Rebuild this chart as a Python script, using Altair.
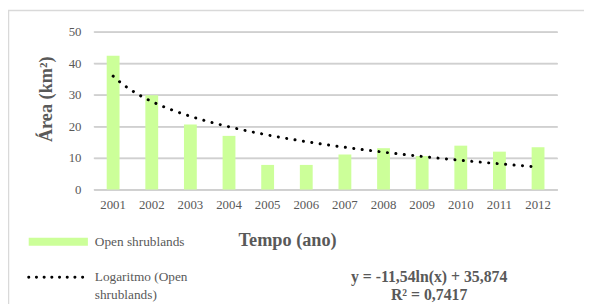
import altair as alt
import pandas as pd

# ---- data ----
years = [2001, 2002, 2003, 2004, 2005, 2006, 2007, 2008, 2009, 2010, 2011, 2012]
area = [42.4, 29.9, 20.6, 17.0, 7.8, 7.8, 11.1, 13.1, 10.6, 13.9, 12.0, 13.4]
y_ticks = [0, 10, 20, 30, 40, 50]
series_label = ["Open shrublands"]
trend_label = ["Logaritmo (Open", "shrublands)"]
equation_lines = ["y = -11,54ln(x) + 35,874", "R² = 0,7417"]
x_title = "Tempo (ano)"
y_title = "Área (km²)"

FONT = "Liberation Serif"
GRAY = "#595959"
GRID = "#d0d0d0"
GREEN = "#ccff99"

df = pd.DataFrame({"year": years, "area": area})
base = alt.Chart(df)

y_axis = alt.Axis(title=y_title, values=y_ticks, domain=False, ticks=False,
                  grid=True, gridColor=GRID, gridWidth=1.5, gridOpacity=1,
                  labelPadding=13, labelFontSize=13, labelColor=GRAY,
                  titleX=-49, titleY=68, titleBaseline="middle", titleAngle=-90,
                  titleFontSize=18.5, titleColor=GRAY, titleFontWeight="bold")
y_scale = alt.Scale(domain=[0, 50], nice=False)

grid = alt.Chart(pd.DataFrame({"area": y_ticks})).mark_rule(
    color=GRID, strokeWidth=1.5, opacity=1, yOffset=0.25
).encode(x=alt.value(0), x2=alt.value(470),
         y=alt.Y("area:Q", scale=y_scale, axis=y_axis))

bars = base.mark_bar(color=GREEN).encode(
    x=alt.X("year:O",
            scale=alt.Scale(paddingInner=0.668, paddingOuter=0.334),
            axis=alt.Axis(title=x_title, labelAngle=0, ticks=False, grid=False,
                          domain=True, domainColor=GRID, domainWidth=1.5,
                          labelPadding=9, labelFontSize=13, labelColor=GRAY,
                          titleX=196, titleY=51, titleBaseline="middle",
                          titleFontSize=18.5, titleColor=GRAY, titleFontWeight="bold")),
    y=alt.Y("area:Q", scale=y_scale, axis=y_axis),
)

trend = (
    base.transform_calculate(idx="datum.year - 2000")
    .transform_regression("idx", "area", method="log", extent=[1, 12])
    .mark_line(color="black", strokeDash=[0.1, 8.5], strokeCap="round", strokeWidth=3)
    .encode(
        x=alt.X("idx:Q", scale=alt.Scale(domain=[0.5, 12.5], nice=False, zero=False), axis=None),
        y=alt.Y("area:Q", scale=y_scale, axis=y_axis),
    )
)

border = alt.Chart(pd.DataFrame({"k": [0]})).mark_rect(
    filled=False, stroke="#d9d9d9", strokeWidth=1.5
).encode(x=alt.value(-86.5), x2=alt.value(600), y=alt.value(-21.5), y2=alt.value(400))


def text_line(label, x, y, align, size, weight="normal"):
    return alt.Chart(pd.DataFrame({"label": [label]})).mark_text(
        align=align, baseline="middle", font=FONT, fontSize=size, fontWeight=weight, color=GRAY
    ).encode(text="label:N", x=alt.value(x), y=alt.value(y))


leg_swatch = alt.Chart(pd.DataFrame({"label": series_label})).mark_rect(color=GREEN).encode(
    x=alt.value(-66), x2=alt.value(-6), y=alt.value(209), y2=alt.value(217))
leg_text1 = text_line(series_label[0], 1, 213, "left", 13.5)

leg_line = alt.Chart(pd.DataFrame({"label": [trend_label[0]]})).mark_rule(
    color="black", strokeDash=[0.1, 7.7], strokeCap="round", strokeWidth=3
).encode(x=alt.value(-66), x2=alt.value(-11), y=alt.value(249))
leg_text2a = text_line(trend_label[0], 1, 249, "left", 13.5)
leg_text2b = text_line(trend_label[1], 1, 267, "left", 13.5)

eq1 = text_line(equation_lines[0], 340, 249, "center", 16, "bold")
eq2 = text_line(equation_lines[1], 340, 267, "center", 16, "bold")

chart = (
    alt.layer(grid, bars, trend, border, leg_swatch, leg_text1, leg_line,
              leg_text2a, leg_text2b, eq1, eq2)
    .resolve_scale(x="independent")
    .properties(width=470, height=160,
                autosize=alt.AutoSizeParams(type="none"),
                padding={"left": 87, "top": 22, "right": 27, "bottom": 114})
    .configure_view(stroke=None)
    .configure_axis(labelFont=FONT, titleFont=FONT)
    .configure_text(font=FONT)
)

chart.save("out.html", embed_options={"renderer": "svg", "actions": False})
